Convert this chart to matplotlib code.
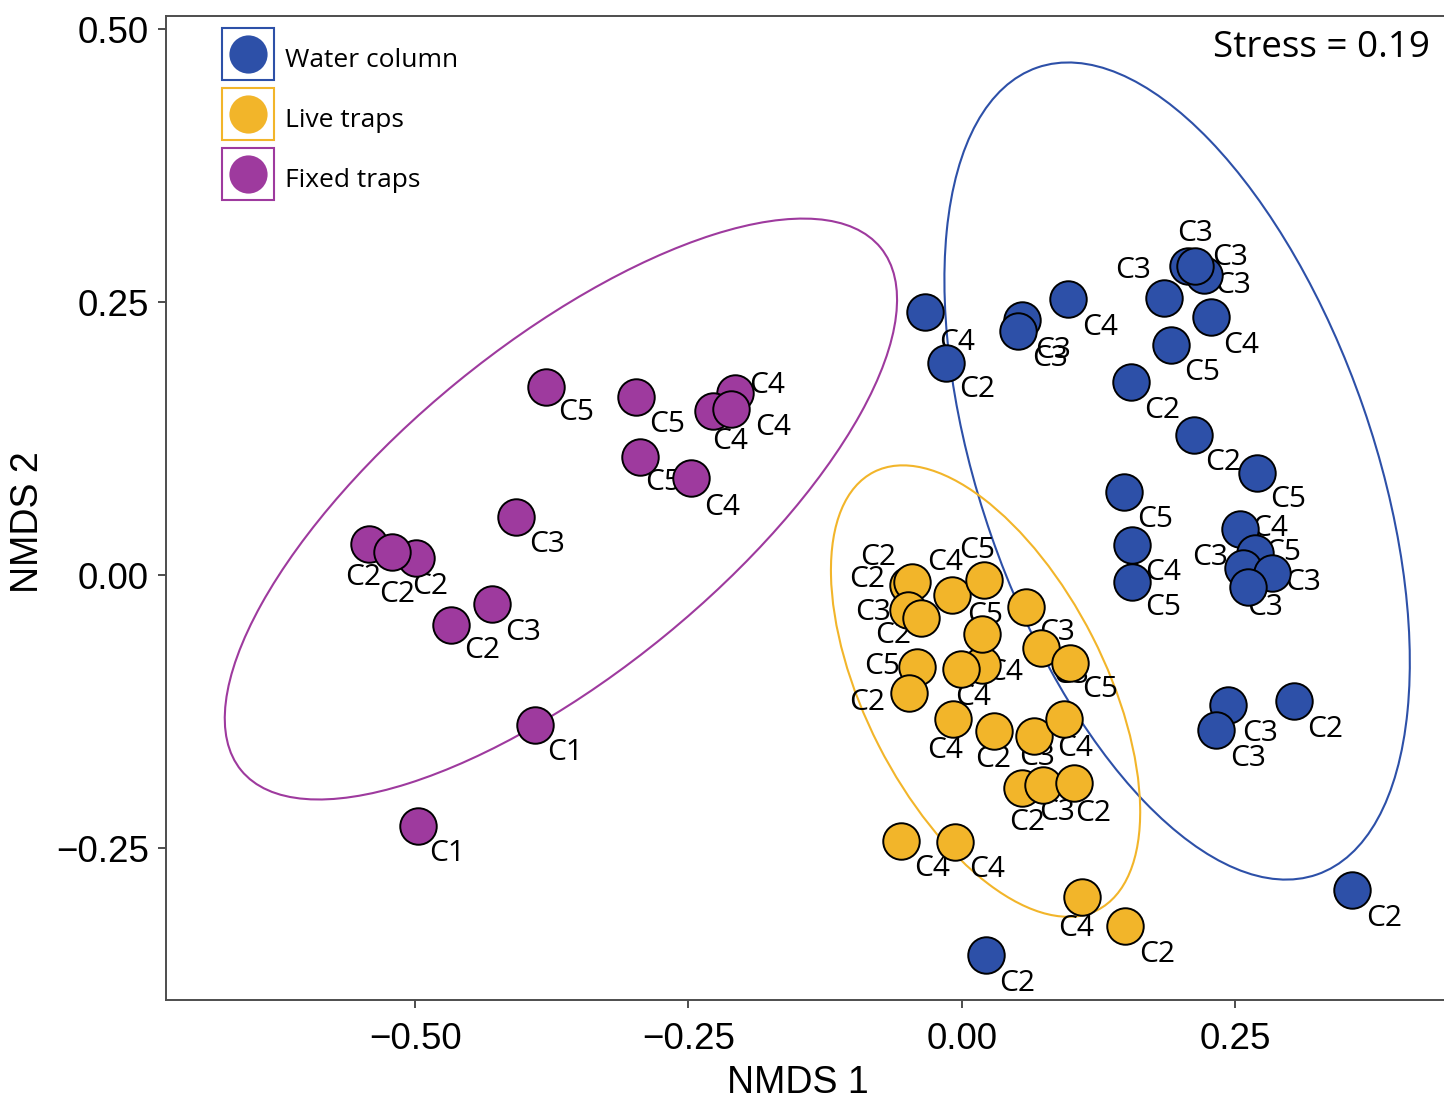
import matplotlib
matplotlib.use("Agg")
import matplotlib.pyplot as plt
from matplotlib.patches import Ellipse
from matplotlib.lines import Line2D
from matplotlib.legend_handler import HandlerTuple

# ---------------- data ----------------
group_names = ["Water column", "Live traps", "Fixed traps"]

water_x = [-0.0336, -0.0146, 0.0549, 0.0518, 0.0975, 0.1854, 0.2073, 0.2217, 0.2135,
           0.2281, 0.1915, 0.1549, 0.2125, 0.2699, 0.1485, 0.1555, 0.1561, 0.2546,
           0.2683, 0.2576, 0.2836, 0.2617, 0.2436, 0.2327, 0.3040, 0.3571, 0.0222]
water_y = [0.2408, 0.1947, 0.2338, 0.2237, 0.2530, 0.2537, 0.2832, 0.2750, 0.2832,
           0.2363, 0.2109, 0.1767, 0.1285, 0.0940, 0.0766, 0.0277, -0.0059, 0.0421,
           0.0201, 0.0064, 0.0024, -0.0104, -0.1188, -0.1417, -0.1151, -0.2882, -0.3477]
water_lab = ["C4", "C2", "C3", "C3", "C4", "C3", "C3", "C3", "C3",
             "C4", "C5", "C2", "C2", "C5", "C5", "C4", "C5", "C4",
             "C5", "C3", "C3", "C3", "C3", "C3", "C2", "C2", "C2"]

live_x = [-0.0489, -0.0457, -0.0489, -0.0375, -0.0086, 0.0204, 0.0588, 0.0183, 0.0188,
          -0.0009, -0.0406, -0.0482, 0.0723, 0.0991, -0.0082, 0.0298, 0.0664, 0.0936,
          0.0549, 0.0741, 0.1027, -0.0555, -0.0061, 0.1101, 0.1494]
live_y = [-0.0089, -0.0059, -0.0318, -0.0394, -0.0180, -0.0043, -0.0288, -0.0821, -0.0540,
          -0.0858, -0.0837, -0.1081, -0.0668, -0.0800, -0.1316, -0.1423, -0.1472, -0.1316,
          -0.1951, -0.1920, -0.1905, -0.2433, -0.2442, -0.2946, -0.3212]
live_lab = ["C2", "C2", "C3", "C2", "C4", "C5", "C3", "C4", "C5",
            "C4", "C5", "C2", "C3", "C5", "C4", "C2", "C3", "C4",
            "C2", "C3", "C2", "C4", "C4", "C4", "C2"]

fixed_x = [-0.3806, -0.2980, -0.2074, -0.2273, -0.2111, -0.2943, -0.2479, -0.4078,
           -0.5420, -0.4993, -0.5212, -0.4295, -0.4670, -0.3904, -0.4974]
fixed_y = [0.1727, 0.1630, 0.1667, 0.1507, 0.1520, 0.1086, 0.0888, 0.0537,
           0.0287, 0.0161, 0.0216, -0.0266, -0.0455, -0.1371, -0.2296]
fixed_lab = ["C5", "C5", "C4", "C4", "C4", "C5", "C4", "C3",
             "C2", "C2", "C2", "C3", "C2", "C1", "C1"]

# ellipse parameters (centre x, centre y, width, height, angle in degrees)
water_ell = (0.197, 0.0955, 0.782, 0.360, -70.9)
live_ell = (0.0218, -0.106, 0.4503, 0.2194, -63.0)
fixed_ell = (-0.3666, 0.0607, 0.7557, 0.300, 39.3)

stress_text = "Stress = 0.19"
xtick_vals = [-0.50, -0.25, 0.00, 0.25]
xtick_labs = ["\u22120.50", "\u22120.25", "0.00", "0.25"]
ytick_vals = [-0.25, 0.00, 0.25, 0.50]
ytick_labs = ["\u22120.25", "0.00", "0.25", "0.50"]

# ---------------- label offsets (pixels, right / down) ----------------
water_off = [(32, 30), (31, 27), (31, 30), (32, 27), (32, 28), (-31, -28), (7, -33), (29, 10), (35, -9),
             (30, 28), (31, 27), (31, 28), (29, 28), (31, 27), (31, 28), (31, 27), (31, 26), (30, -1),
             (28, -1), (-33, -11), (31, 10), (17, 21), (32, 28), (32, 28), (31, 28), (32, 28), (31, 28)]
live_off = [(-30, -28), (-45, -2), (-35, 2), (-28, 17), (-7, -32), (-7, -30), (31, 26), (23, 8), (3, -19),
            (12, 28), (-35, 0), (-42, 9), (30, 27), (30, 27), (-8, 31), (-1, 29), (3, 21), (11, 29),
            (5, 34), (14, 28), (19, 30), (31, 27), (32, 28), (-6, 31), (32, 28)]
fixed_off = [(31, 26), (31, 27), (32, -8), (17, 31), (42, 18), (23, 26), (31, 29), (31, 28),
             (-6, 34), (14, 29), (5, 43), (31, 28), (31, 25), (30, 27), (29, 27)]

colors = ["#2D50A8", "#F2B52A", "#9E3A9E"]

# ---------------- figure ----------------
W, H = 1444, 1099
fig = plt.figure(figsize=(W / 100, H / 100), dpi=100)
ax = fig.add_axes([166 / W, 1 - 1000 / H, (W - 166) / W, (1000 - 16) / H])
ax.set_xlim(-0.7278, 0.4411)
ax.set_ylim(-0.3889, 0.5122)

label_font = "Open Sans"
tick_font = "Liberation Sans"

groups = [
    (water_x, water_y, water_lab, water_off, water_ell),
    (live_x, live_y, live_lab, live_off, live_ell),
    (fixed_x, fixed_y, fixed_lab, fixed_off, fixed_ell),
]

for (gx, gy, glab, goff, gell), col in zip(groups, colors):
    cx, cy, w, h, ang = gell
    ax.add_patch(Ellipse((cx, cy), w, h, angle=ang, fill=False, edgecolor=col,
                         linewidth=1.5, zorder=1))

for (gx, gy, glab, goff, gell), col in zip(groups, colors):
    for xx, yy, lab, (dx, dy) in zip(gx, gy, glab, goff):
        ax.annotate(lab, (xx, yy), xytext=(dx, -dy), textcoords="offset pixels",
                    ha="center", va="center", fontsize=21.5, family=label_font,
                    color="black", zorder=2.5)

for (gx, gy, glab, goff, gell), col in zip(groups, colors):
    ax.scatter(gx, gy, s=690, facecolor=col, edgecolor="black", linewidth=1.4, zorder=3)

# axes styling
for side in ["left", "bottom", "top"]:
    ax.spines[side].set_color("#4d4d4d")
    ax.spines[side].set_linewidth(1.4)
ax.spines["right"].set_visible(False)

ax.set_xticks(xtick_vals)
ax.set_xticklabels(xtick_labs, family=tick_font, fontsize=26.5)
ax.set_yticks(ytick_vals)
ax.set_yticklabels(ytick_labs, family=tick_font, fontsize=26.5)
ax.tick_params(axis="x", length=5.8, width=1.4, color="#4d4d4d", pad=10,
               labelcolor="black")
ax.tick_params(axis="y", length=5.8, width=1.4, color="#4d4d4d", pad=6.5,
               labelcolor="black")

ax.set_xlabel("NMDS 1", family=tick_font, fontsize=27)
ax.set_ylabel("NMDS 2", family=tick_font, fontsize=27)
ax.xaxis.set_label_coords((798 - 166) / 1278, -(1065 - 1000) / 984)
ax.yaxis.set_label_coords(-(166 - 46) / 1278, 1 - (522 - 16) / 984)

ax.text((1430 - 166) / 1278, 1 - (48 - 16) / 984, stress_text, transform=ax.transAxes,
        ha="right", va="center", fontsize=26.5, family=label_font)

# legend
handles = []
for col in colors:
    sq = Line2D([], [], marker="s", markersize=37, markerfacecolor="white",
                markeredgecolor=col, markeredgewidth=1.5, linestyle="")
    ci = Line2D([], [], marker="o", markersize=27.5, markerfacecolor=col,
                markeredgecolor=col, markeredgewidth=0, linestyle="")
    handles.append((sq, ci))
leg = ax.legend(handles, group_names, handler_map={tuple: HandlerTuple(ndivide=1)},
                loc="upper left", bbox_to_anchor=((222 - 166) / 1278, 1 - (41 - 16) / 984),
                frameon=False, borderpad=0, borderaxespad=0,
                prop={"family": label_font, "size": 19},
                handlelength=2.0, handleheight=1.6, labelspacing=1.0,
                handletextpad=0.38)

fig.savefig("out.png", dpi=100)
